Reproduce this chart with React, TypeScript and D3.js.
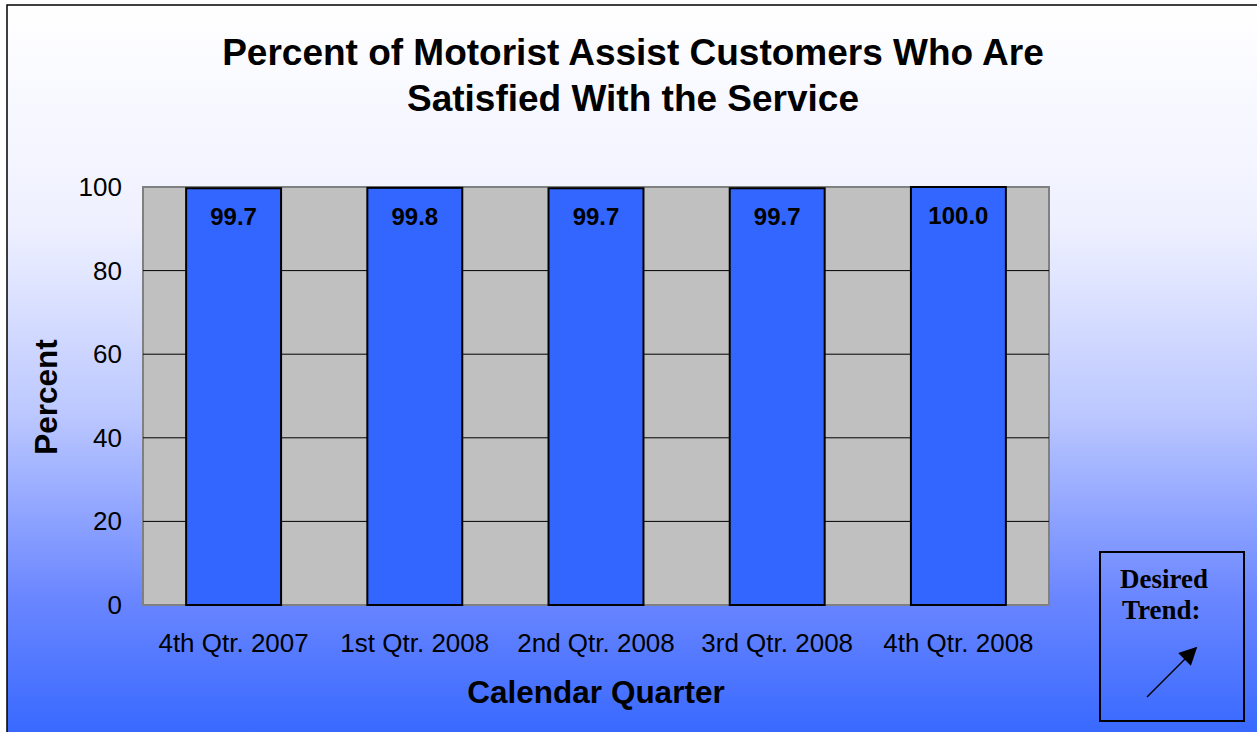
import React, { useEffect, useRef } from 'react';
import * as d3 from 'd3';

const quarters = ['4th Qtr. 2007', '1st Qtr. 2008', '2nd Qtr. 2008', '3rd Qtr. 2008', '4th Qtr. 2008'];
const satisfied = [99.7, 99.8, 99.7, 99.7, 100.0];
const yTicks = [0, 20, 40, 60, 80, 100];

const W = 1257;
const H = 732;
const SANS = 'Liberation Sans, Arial, sans-serif';
const SERIF = 'Liberation Serif, Times New Roman, serif';

export default function App() {
  const svgRef = useRef<SVGSVGElement>(null);

  useEffect(() => {
    if (!svgRef.current) return;
    const svg = d3.select(svgRef.current);
    svg.selectAll('*').remove();

    const plot = { left: 143, right: 1049, top: 187, bottom: 605 };

    // background gradient
    const defs = svg.append('defs');
    const bg = defs.append('linearGradient')
      .attr('id', 'bg-grad')
      .attr('x1', '0%').attr('y1', '0%')
      .attr('x2', '0%').attr('y2', '100%');
    bg.append('stop').attr('offset', '0%').attr('stop-color', '#ffffff');
    bg.append('stop').attr('offset', '30%').attr('stop-color', '#eef0ff');
    bg.append('stop').attr('offset', '55%').attr('stop-color', '#bcc8ff');
    bg.append('stop').attr('offset', '80%').attr('stop-color', '#6a86ff');
    bg.append('stop').attr('offset', '100%').attr('stop-color', '#3366ff');

    svg.append('rect')
      .attr('x', 7).attr('y', 5)
      .attr('width', W + 10).attr('height', H + 10)
      .attr('fill', 'url(#bg-grad)')
      .attr('stroke', '#000')
      .attr('stroke-width', 1.5);

    const x = d3.scaleBand<string>()
      .domain(quarters)
      .range([plot.left, plot.right])
      .paddingInner(0.476)
      .paddingOuter(0.238);

    const y = d3.scaleLinear()
      .domain([0, 100])
      .range([plot.bottom, plot.top]);

    // plot area
    svg.append('rect')
      .attr('x', plot.left).attr('y', plot.top)
      .attr('width', plot.right - plot.left)
      .attr('height', plot.bottom - plot.top)
      .attr('fill', '#c0c0c0')
      .attr('stroke', '#808080')
      .attr('stroke-width', 2);

    // gridlines
    svg.append('g')
      .selectAll('line')
      .data(yTicks.filter(t => t > 0 && t < 100))
      .join('line')
      .attr('x1', plot.left).attr('x2', plot.right)
      .attr('y1', d => y(d)).attr('y2', d => y(d))
      .attr('stroke', '#000')
      .attr('stroke-width', 1);

    // bars
    svg.append('g')
      .selectAll('rect')
      .data(satisfied)
      .join('rect')
      .attr('x', (_, i) => x(quarters[i])!)
      .attr('y', d => y(d))
      .attr('width', x.bandwidth())
      .attr('height', d => y(0) - y(d))
      .attr('fill', '#3366ff')
      .attr('stroke', '#000')
      .attr('stroke-width', 2);

    // value labels
    svg.append('g')
      .selectAll('text')
      .data(satisfied)
      .join('text')
      .attr('x', (_, i) => x(quarters[i])! + x.bandwidth() / 2)
      .attr('y', d => y(d) + 37)
      .attr('text-anchor', 'middle')
      .attr('font-family', SANS)
      .attr('font-weight', 'bold')
      .attr('font-size', 24)
      .text(d => d.toFixed(1));

    // y ticks
    svg.append('g')
      .selectAll('text')
      .data(yTicks)
      .join('text')
      .attr('x', 122)
      .attr('y', d => y(d) + 9)
      .attr('text-anchor', 'end')
      .attr('font-family', SANS)
      .attr('font-size', 26)
      .text(d => d);

    // x labels
    svg.append('g')
      .selectAll('text')
      .data(quarters)
      .join('text')
      .attr('x', d => x(d)! + x.bandwidth() / 2)
      .attr('y', 652)
      .attr('text-anchor', 'middle')
      .attr('font-family', SANS)
      .attr('font-size', 26)
      .text(d => d);

    // titles
    const title = svg.append('text')
      .attr('text-anchor', 'middle')
      .attr('font-family', SANS)
      .attr('font-weight', 'bold')
      .attr('font-size', 37);
    title.append('tspan').attr('x', 633).attr('y', 65).text('Percent of Motorist Assist Customers Who Are');
    title.append('tspan').attr('x', 633).attr('y', 111).text('Satisfied With the Service');

    svg.append('text')
      .attr('x', 596).attr('y', 703)
      .attr('text-anchor', 'middle')
      .attr('font-family', SANS)
      .attr('font-weight', 'bold')
      .attr('font-size', 31.5)
      .text('Calendar Quarter');

    svg.append('text')
      .attr('transform', `translate(57,397) rotate(-90)`)
      .attr('text-anchor', 'middle')
      .attr('font-family', SANS)
      .attr('font-weight', 'bold')
      .attr('font-size', 31.5)
      .text('Percent');

    // desired trend box
    const box = svg.append('g');
    box.append('rect')
      .attr('x', 1100).attr('y', 552)
      .attr('width', 144).attr('height', 169)
      .attr('fill', 'none')
      .attr('stroke', '#000')
      .attr('stroke-width', 2);
    box.append('text')
      .attr('x', 1120).attr('y', 588)
      .attr('font-family', SERIF)
      .attr('font-weight', 'bold')
      .attr('font-size', 27)
      .text('Desired');
    box.append('text')
      .attr('x', 1122).attr('y', 619)
      .attr('font-family', SERIF)
      .attr('font-weight', 'bold')
      .attr('font-size', 27)
      .text('Trend:');

    defs.append('marker')
      .attr('id', 'arrowhead')
      .attr('viewBox', '0 0 10 10')
      .attr('refX', 9).attr('refY', 5)
      .attr('markerWidth', 20).attr('markerHeight', 18)
      .attr('markerUnits', 'userSpaceOnUse')
      .attr('orient', 'auto')
      .append('path')
      .attr('d', 'M0,0 L10,5 L0,10 Z')
      .attr('fill', '#000');
    box.append('line')
      .attr('x1', 1147).attr('y1', 697)
      .attr('x2', 1196).attr('y2', 648)
      .attr('stroke', '#000')
      .attr('stroke-width', 1.5)
      .attr('marker-end', 'url(#arrowhead)');
  }, []);

  return (
    <div style={{ position: 'absolute', left: 0, top: 0, width: W, height: H, overflow: 'hidden' }}>
      <svg ref={svgRef} width={W} height={H} viewBox={`0 0 ${W} ${H}`} style={{ display: 'block' }} />
    </div>
  );
}
